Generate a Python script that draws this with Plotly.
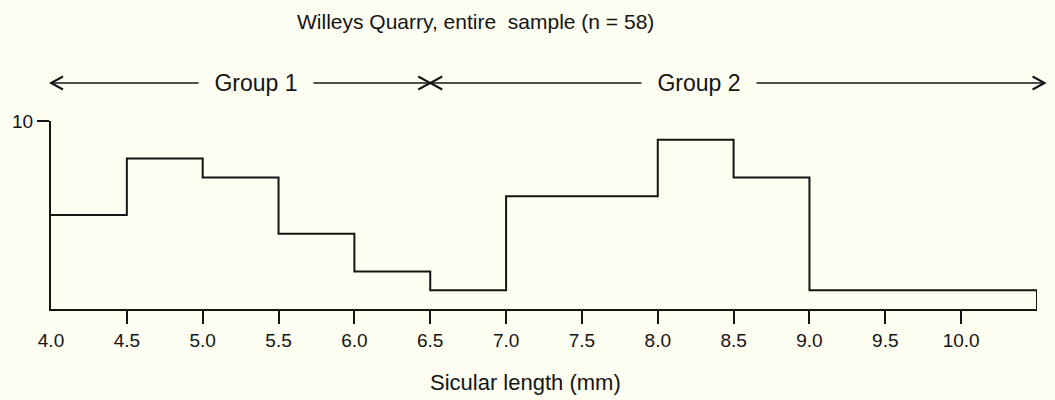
import plotly.graph_objects as go

# Histogram of sicular length, Willeys Quarry (0.5 mm bins)
bin_edges = [4.0, 4.5, 5.0, 5.5, 6.0, 6.5, 7.0, 7.5, 8.0, 8.5, 9.0, 9.5, 10.0, 10.5]
counts = [5, 8, 7, 4, 2, 1, 6, 6, 9, 7, 1, 1, 1]

x_tick_vals = [4.0, 4.5, 5.0, 5.5, 6.0, 6.5, 7.0, 7.5, 8.0, 8.5, 9.0, 9.5, 10.0]
x_tick_text = ["4.0", "4.5", "5.0", "5.5", "6.0", "6.5", "7.0", "7.5", "8.0", "8.5", "9.0", "9.5", "10.0"]
y_tick_vals = [10]
y_tick_text = ["10"]

# Group brackets drawn above the histogram (in mm)
group_names = ["Group 1", "Group 2"]
group_start = [4.0, 6.5]
group_end = [6.5, 10.55]
group_label_at = [5.35, 8.27]

title_text = "Willeys Quarry, entire  sample (n = 58)"
x_title_text = "Sicular length (mm)"

BG = "#fdfdf2"
INK = "#141414"
FONT = "Liberation Sans, Arial, sans-serif"

W, H = 1055, 400
ML, MR, MT, MB = 51, 18, 121, 91
PW, PH = W - ML - MR, H - MT - MB
X0, X1 = bin_edges[0], bin_edges[-1]


def xp(v):
    """mm value -> paper x"""
    return (v - X0) / (X1 - X0)


def yp(row):
    """pixel row from top -> paper y"""
    return (H - MB - row) / PH


# step outline: top of each bin, then down to the baseline at the last edge
step_y = counts + [0]

fig = go.Figure()
fig.add_trace(go.Scatter(
    x=bin_edges, y=step_y, mode="lines",
    line=dict(shape="hv", color=INK, width=2),
    cliponaxis=False, hoverinfo="skip", showlegend=False,
))

shapes = []
annotations = []

arrow_y = yp(83)
head_dx = 12 / PW
head_dy = 6.5 / PH


def chevron(tip_x, direction):
    # direction -1 -> points left, +1 -> points right
    bx = tip_x - direction * head_dx
    return dict(
        type="path", xref="paper", yref="paper",
        path=f"M {bx},{arrow_y + head_dy} L {tip_x},{arrow_y} L {bx},{arrow_y - head_dy}",
        line=dict(color=INK, width=2),
    )


for name, s, e, at in zip(group_names, group_start, group_end, group_label_at):
    shapes.append(dict(
        type="line", xref="paper", yref="paper",
        x0=xp(s), x1=xp(e), y0=arrow_y, y1=arrow_y,
        line=dict(color=INK, width=1.6),
    ))
    shapes.append(chevron(xp(s), -1))
    shapes.append(chevron(xp(e), 1))
    annotations.append(dict(
        text=name, xref="paper", yref="paper", x=xp(at), y=arrow_y,
        xanchor="center", yanchor="middle", showarrow=False,
        font=dict(family=FONT, size=23, color=INK),
        bgcolor=BG, width=112, height=30,
    ))

annotations.append(dict(
    text=title_text, xref="paper", yref="paper", x=xp(6.8), y=yp(21),
    xanchor="center", yanchor="middle", showarrow=False,
    font=dict(family=FONT, size=21, color=INK),
))
annotations.append(dict(
    text=x_title_text, xref="paper", yref="paper", x=xp(7.13), y=yp(382),
    xanchor="center", yanchor="middle", showarrow=False,
    font=dict(family=FONT, size=22, color=INK),
))

fig.update_layout(
    width=W, height=H,
    margin=dict(l=ML, r=MR, t=MT, b=MB, pad=0),
    paper_bgcolor=BG, plot_bgcolor=BG,
    shapes=shapes, annotations=annotations,
    showlegend=False,
    xaxis=dict(
        range=[X0, X1], showgrid=False, zeroline=False,
        showline=True, linecolor=INK, linewidth=2,
        tickmode="array", tickvals=x_tick_vals, ticktext=x_tick_text,
        ticks="", ticklabelstandoff=13,
        tickfont=dict(family=FONT, size=19, color=INK),
        minor=dict(tickmode="array", tickvals=x_tick_vals[1:], ticks="outside",
                   ticklen=13, tickwidth=2, tickcolor=INK, showgrid=False),
    ),
    yaxis=dict(
        range=[0, 10], showgrid=False, zeroline=False,
        showline=True, linecolor=INK, linewidth=2,
        tickmode="array", tickvals=y_tick_vals, ticktext=y_tick_text,
        ticks="outside", ticklen=12, tickwidth=2, tickcolor=INK,
        tickfont=dict(family=FONT, size=19, color=INK),
    ),
)

fig.write_html("out.html")
